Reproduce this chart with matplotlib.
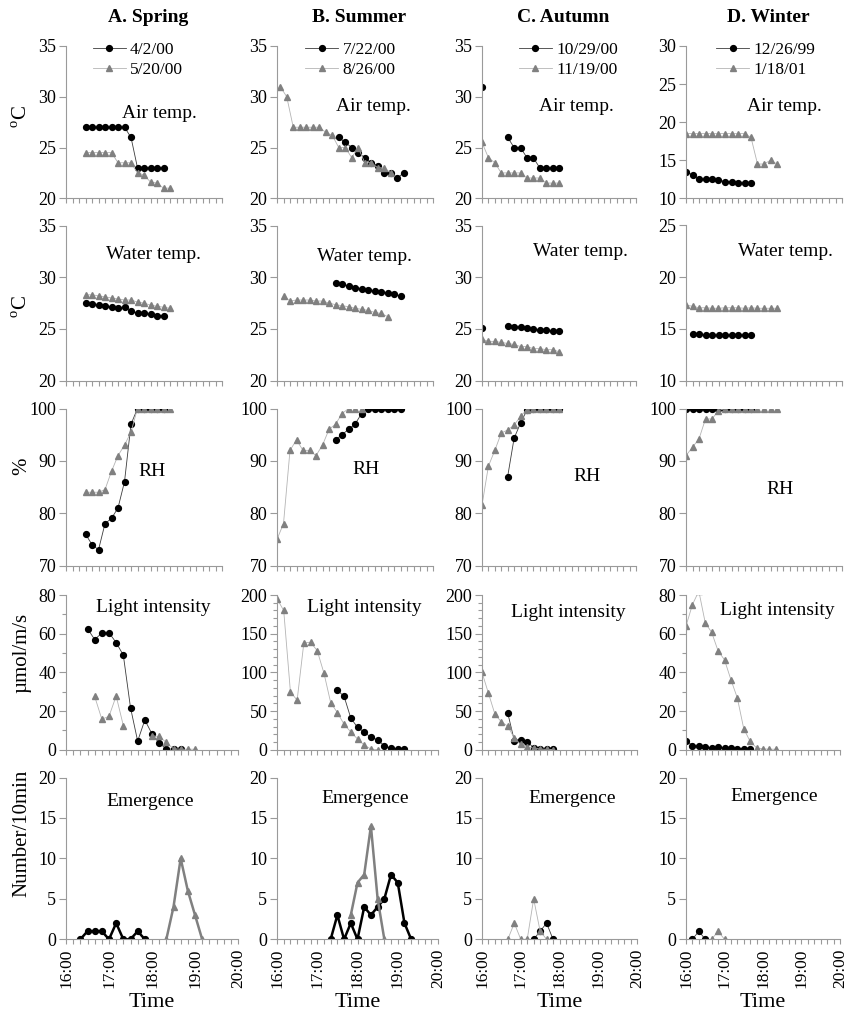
import numpy as np
import matplotlib
matplotlib.use('Agg')
import matplotlib.pyplot as plt
from matplotlib.ticker import MultipleLocator, FuncFormatter

plt.rcParams['font.family'] = ['Liberation Serif', 'DejaVu Serif']
plt.rcParams['mathtext.fontset'] = 'custom'
plt.rcParams['mathtext.rm'] = 'Liberation Serif'

nan = np.nan

seasons = ['A. Spring', 'B. Summer', 'C. Autumn', 'D. Winter']
dates_black = ['4/2/00', '7/22/00', '10/29/00', '12/26/99']
dates_gray = ['5/20/00', '8/26/00', '11/19/00', '1/18/01']
row_names = ['Air temp.', 'Water temp.', 'RH', 'Light intensity', 'Emergence']
row_ylabels = [r'$^{\rm o}$C', r'$^{\rm o}$C', '%', 'µmol/m/s', 'Number/10min']

# each series: (first reading, values every 10 min)
spring_air_black = ('16:30', [27, 27, 27, 27, 27, 27, 27, 26, 23, 23, 23, 23, 23])
spring_air_gray = ('16:30', [24.5, 24.5, 24.5, 24.5, 24.5, 23.5, 23.5, 23.5, 22.5, 22.3, 21.6, 21.5, 21, 21])
spring_water_black = ('16:30', [27.5, 27.4, 27.3, 27.2, 27.1, 27.0, 27.1, 26.7, 26.5, 26.5, 26.4, 26.3, 26.3])
spring_water_gray = ('16:30', [28.3, 28.3, 28.2, 28.1, 28.0, 27.9, 27.8, 27.8, 27.6, 27.5, 27.3, 27.2, 27.1, 27.0])
spring_rh_black = ('16:30', [76, 74, 73, 78, 79, 81, 86, 97, 100, 100, 100, 100, 100])
spring_rh_gray = ('16:30', [84, 84, 84, 84.5, 88, 91, 93, 95.5, 100, 100, 100, 100, 100, 100])
spring_light_black = ('16:30', [62.6, 57, 60.3, 60.5, 55.4, 48.9, 21.8, 4.5, 15.4, 8.2, 3.4, 0.5, 0.3, 0.3])
spring_light_gray = ('16:40', [27.6, 15.8, 17.3, 27.8, 12.5, nan, nan, nan, 7.2, 6.9, 3.8, 0.5, 0.3, 0.3, 0.3])
spring_emerg_black = ('16:20', [0, 1, 1, 1, 0, 2, 0, 0, 1, 0])
spring_emerg_gray = ('18:20', [0, 4, 10, 6, 3, 0])

summer_air_black = ('17:35', [26, 25.5, 25, 24.5, 24, 23.5, 23.2, 22.5, 22.5, 22, 22.5])
summer_air_gray = ('16:05', [31, 30, 27, 27, 27, 27, 27, 26.5, 26.2, 25, 25, 24, 25, 23.5, 23.5, 23.0, 23.0, 22.5])
summer_water_black = ('17:30', [29.4, 29.35, 29.15, 29.0, 28.9, 28.8, 28.7, 28.6, 28.5, 28.35, 28.2])
summer_water_gray = ('16:10', [28.2, 27.7, 27.8, 27.8, 27.8, 27.7, 27.7, 27.5, 27.35, 27.25, 27.15, 27.0, 26.9, 26.8, 26.6, 26.5, 26.2])
summer_rh_black = ('17:30', [94, 95, 96, 97, 99, 100, 100, 100, 100, 100, 100])
summer_rh_gray = ('16:00', [75, 78, 92, 94, 92, 92, 91, 93, 96, 97, 99, 100, 100, 100])
summer_light_black = ('17:30', [77, 69, 41, 29, 23, 16, 13, 5, 2, 1, 1])
summer_light_gray = ('16:00', [195, 180, 75, 64, 138, 139, 128, 99, 61, 48, 33, 23, 14, 6, 1, 0])
summer_emerg_black = ('17:20', [0, 3, 0, 2, 0, 4, 3, 4, 5, 8, 7, 2, 0])
summer_emerg_gray = ('17:50', [3, 7, 8, 14, 5, 0])

autumn_air_black = ('16:00', [31, nan, nan, nan, 26, 25, 25, 24, 24, 23, 23, 23, 23])
autumn_air_gray = ('16:00', [25.5, 24, 23.5, 22.5, 22.5, 22.5, 22.5, 22, 22, 22, 21.5, 21.5, 21.5])
autumn_water_black = ('16:00', [25.1, nan, nan, nan, 25.3, 25.2, 25.2, 25.1, 25.0, 24.9, 24.9, 24.8, 24.8])
autumn_water_gray = ('16:00', [24.0, 23.8, 23.8, 23.7, 23.6, 23.5, 23.3, 23.3, 23.1, 23.1, 23.0, 23.0, 22.8])
autumn_rh_black = ('16:40', [87, 94.3, 97.2, 99.7, 100, 100, 100, 100, 100])
autumn_rh_gray = ('16:00', [81.5, 89, 92, 95.3, 95.9, 96.8, 98.5, 99.8, 100, 100, 100, 100, 100])
autumn_light_black = ('16:40', [47, 12, 12.5, 10.5, 2.5, 1.5, 0.8, 0.5])
autumn_light_gray = ('16:00', [100, 73, 46, 36, 30.5, 15, 7, 4, 2, 1, 0.5, 0.3])
autumn_emerg_black = ('17:20', [0, 1, 2, 0])
autumn_emerg_gray = ('16:40', [0, 2, 0, 0, 5, 1, 0])

winter_air_black = ('16:00', [13.5, 13.1, 12.5, 12.5, 12.5, 12.4, 12.2, 12.2, 12.0, 12.0, 12.0])
winter_air_gray = ('16:00', [18.5, 18.5, 18.5, 18.5, 18.5, 18.5, 18.5, 18.5, 18.5, 18.5, 18, 14.5, 14.5, 15, 14.5])
winter_water_black = ('16:10', [14.5, 14.5, 14.4, 14.4, 14.4, 14.4, 14.4, 14.4, 14.4, 14.4])
winter_water_gray = ('16:00', [17.3, 17.2, 17.05, 17.05, 17.0, 17.0, 17.05, 17.05, 17.05, 17.0, 17.05, 17.0, 17.0, 17.0, 17.0])
winter_rh_black = ('16:00', [100, 100, 100, 100, 100, 100, 100, 100, 100, 100, 100])
winter_rh_gray = ('16:00', [91, 92.6, 94.2, 98, 98, 99.6, 100, 100, 100, 100, 100, 100, 100, 100, 100])
winter_light_black = ('16:00', [4.8, 2.2, 1.8, 1.5, 1.0, 1.5, 0.8, 0.7, 0.6, 0.6, 0.6])
winter_light_gray = ('16:00', [64, 75, 82, 65.6, 60.7, 51.1, 46.5, 36.2, 26.8, 10.9, 4.3, 1, 0.5, 0.3, 0.3])
winter_emerg_black = ('16:10', [0, 1, 0])
winter_emerg_gray = ('16:40', [0, 1, 0])

series = [
    [(spring_air_black, spring_air_gray), (spring_water_black, spring_water_gray),
     (spring_rh_black, spring_rh_gray), (spring_light_black, spring_light_gray),
     (spring_emerg_black, spring_emerg_gray)],
    [(summer_air_black, summer_air_gray), (summer_water_black, summer_water_gray),
     (summer_rh_black, summer_rh_gray), (summer_light_black, summer_light_gray),
     (summer_emerg_black, summer_emerg_gray)],
    [(autumn_air_black, autumn_air_gray), (autumn_water_black, autumn_water_gray),
     (autumn_rh_black, autumn_rh_gray), (autumn_light_black, autumn_light_gray),
     (autumn_emerg_black, autumn_emerg_gray)],
    [(winter_air_black, winter_air_gray), (winter_water_black, winter_water_gray),
     (winter_rh_black, winter_rh_gray), (winter_light_black, winter_light_gray),
     (winter_emerg_black, winter_emerg_gray)],
]

# y axis (low, high, step, minor step) per row, per column
y_axes = [
    [(20, 35, 5, None), (20, 35, 5, None), (20, 35, 5, None), (10, 30, 5, None)],
    [(20, 35, 5, None), (20, 35, 5, None), (20, 35, 5, None), (10, 25, 5, None)],
    [(70, 100, 10, None)] * 4,
    [(0, 80, 20, 10), (0, 200, 50, 10), (0, 200, 50, 10), (0, 80, 20, 10)],
    [(0, 20, 5, None)] * 4,
]

# layout in pixels of the 850x1014 picture
W, H = 850, 1014
col_left = [66, 277, 482, 686]
col_right_top = [222, 433, 636, 842]
col_right_bot = [238, 438, 637, 840]
row_top = [46, 225.5, 408.5, 595, 777.5]
row_bottom = [198.3, 380.7, 565.5, 749.8, 939.3]

# label positions inside each panel (axes fraction)
label_pos = [
    [(0.60, 0.56), (0.56, 0.81), (0.55, 0.60), (0.51, 0.92), (0.49, 0.85)],
    [(0.615, 0.605), (0.56, 0.80), (0.57, 0.61), (0.545, 0.92), (0.545, 0.87)],
    [(0.61, 0.60), (0.64, 0.83), (0.68, 0.57), (0.56, 0.89), (0.58, 0.87)],
    [(0.63, 0.60), (0.64, 0.83), (0.60, 0.485), (0.59, 0.90), (0.57, 0.88)],
]
legend_x = [0.17, 0.18, 0.24, 0.195]
ylabel_y = [117, 307, 466, 653, 833]

axis_col = '#9a9a9a'


def hours(start, n):
    h, m = start.split(':')
    return int(h) + int(m) / 60 + np.arange(n) / 6


def hhmm(x, pos):
    return '%d:00' % round(x)


fig = plt.figure(figsize=(W / 100, H / 100), dpi=100, facecolor='white')

for c in range(4):
    for r in range(5):
        right = col_right_top[c] if r < 3 else col_right_bot[c]
        ax = fig.add_axes([col_left[c] / W, 1 - row_bottom[r] / H,
                           (right - col_left[c]) / W, (row_bottom[r] - row_top[r]) / H])
        black, gray = series[c][r]
        thick = (r == 4 and c < 2)
        ax.plot(hours(black[0], len(black[1])), black[1],
                color='black' if thick else '#3c3c3c', lw=1.8 if thick else 0.6,
                marker='o', ms=4.2, mfc='black', mec='black', label=dates_black[c])
        ax.plot(hours(gray[0], len(gray[1])), gray[1],
                color='#808080' if thick else '#b4b4b4', lw=1.8 if thick else 0.6,
                marker='^', ms=4.5, mfc='#808080', mec='#808080', label=dates_gray[c])

        lo, hi, step, minor = y_axes[r][c]
        ax.set_ylim(lo, hi)
        ax.yaxis.set_major_locator(MultipleLocator(step))
        if minor:
            ax.yaxis.set_minor_locator(MultipleLocator(minor))
        ax.set_xlim(16, 20)
        ax.xaxis.set_major_locator(MultipleLocator(1))
        ax.xaxis.set_minor_locator(MultipleLocator(1 / 6))

        for s in ['top', 'right']:
            ax.spines[s].set_visible(False)
        for s in ['left', 'bottom']:
            ax.spines[s].set_color(axis_col)
            ax.spines[s].set_linewidth(0.8)
        ax.tick_params(axis='y', which='major', direction='out', length=5, width=0.8,
                       color=axis_col, labelsize=13, pad=2)
        ax.tick_params(axis='y', which='minor', direction='out', length=3, width=0.8,
                       color=axis_col)
        ax.tick_params(axis='x', which='both', direction='out', length=3.5, width=0.8,
                       color=axis_col, labelsize=12.5, pad=3)
        if r == 4:
            ax.xaxis.set_major_formatter(FuncFormatter(hhmm))
            for lab in ax.get_xticklabels():
                lab.set_rotation(90)
            ax.set_xlabel('Time', fontsize=16, labelpad=4)
        else:
            ax.set_xticklabels([])

        fx, fy = label_pos[c][r]
        ax.text(fx, fy, row_names[r], transform=ax.transAxes, ha='center',
                va='center', fontsize=14)

        if r == 0:
            ax.legend(loc='upper left', bbox_to_anchor=(legend_x[c], 1.03),
                      frameon=False, borderpad=0, borderaxespad=0, fontsize=12.5,
                      handlelength=1.9, handletextpad=0.25, labelspacing=0.25)
            fig.text((col_left[c] + col_right_top[c]) / 2 / W + 0.005, 1 - 17 / H,
                     seasons[c], ha='center', va='center', fontsize=14,
                     fontweight='bold')
        if c == 0:
            fig.text(22 / W, 1 - ylabel_y[r] / H, row_ylabels[r], rotation=90,
                     ha='center', va='center', fontsize=15)

fig.savefig('out.png', dpi=100, facecolor='white')
